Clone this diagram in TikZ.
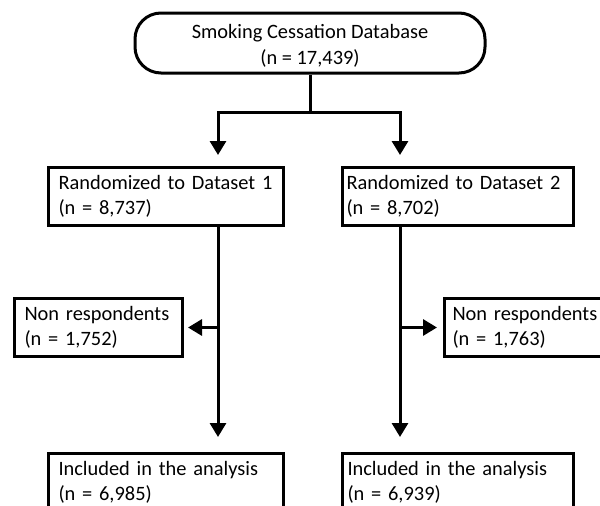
\documentclass[tikz,border=0pt]{standalone}
\usepackage{fontspec}
\setmainfont{Carlito}
\usetikzlibrary{arrows.meta}
\begin{document}
\begin{tikzpicture}[x=1pt,y=-1pt,
  every node/.style={font=\fontsize{20.4}{25.5}\selectfont},
  flowbox/.style={draw, line width=3pt, rectangle, anchor=north west,
    inner xsep=10pt, inner ysep=0pt, minimum height=58pt, align=left},
  startbox/.style={draw, line width=3pt, rectangle, rounded corners=26pt,
    minimum width=350pt, minimum height=60pt, align=center, inner sep=0pt},
  conn/.style={line width=3pt},
  arr/.style={conn, -{Triangle[width=16pt,length=14pt]}}]
\clip (0,0) rectangle (600,506);
\node[startbox] (db) at (310,43) {\rule{0pt}{20pt}Smoking Cessation Database\\(n = 17,439)};
\node[flowbox, text width=215pt] (b1) at (47,166) {\mbox{Randomized to Dataset 1}\\\mbox{(n = 8,737)}};
\node[flowbox, inner xsep=4pt, text width=223pt] (b2) at (341,166) {\mbox{Randomized to Dataset 2}\\\mbox{(n = 8,702)}};
\node[flowbox, text width=148pt] (nr1) at (13,297) {\mbox{Non respondents}\\\mbox{(n = 1,752)}};
\node[flowbox, inner xsep=8pt, text width=154pt] (nr2) at (443,297) {\mbox{Non respondents}\\\mbox{(n = 1,763)}};
\node[flowbox, text width=215pt] (in1) at (47,452) {\mbox{Included in the analysis}\\\mbox{(n = 6,985)}};
\node[flowbox, inner xsep=5pt, text width=221pt] (in2) at (341,452) {\mbox{Included in the analysis}\\\mbox{(n = 6,939)}};
\coordinate (split) at (310,112);
\coordinate (colA) at (218,0);
\coordinate (colB) at (400,0);
\draw[conn] (db.south) -- (split);
\draw[arr, shorten >=11pt] (split) -| (b1.north -| colA);
\draw[arr, shorten >=11pt] (split) -| (b2.north -| colB);
\draw[arr, shorten >=15pt] (b1.south -| colA) -- (in1.north -| colA);
\draw[arr, shorten >=15pt] (b2.south -| colB) -- (in2.north -| colB);
\draw[arr, shorten >=4pt] (colA |- nr1.east) -- (nr1.east);
\draw[arr, shorten >=6pt] (colB |- nr2.west) -- (nr2.west);
\end{tikzpicture}
\end{document}
